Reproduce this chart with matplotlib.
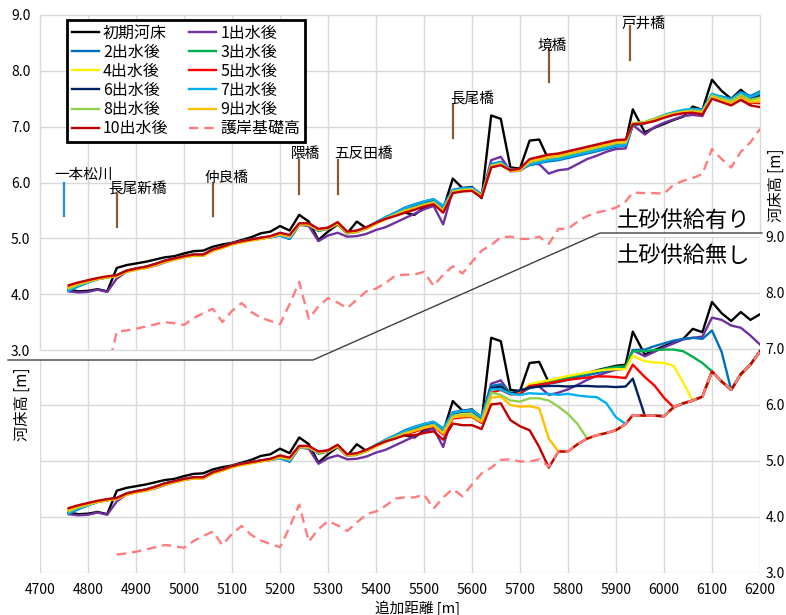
import numpy as np
import matplotlib
matplotlib.use('Agg')
import matplotlib.pyplot as plt
from matplotlib.patches import Polygon
from matplotlib.lines import Line2D

plt.rcParams['font.family'] = ['Noto Sans CJK JP', 'DejaVu Sans']

# survey sections [m]
dist = list(range(4760, 5921, 20)) + [5935] + list(range(5960, 6201, 20))

# initial river bed [m]
init_bed = [4.08, 4.05, 4.06, 4.09, 4.05, 4.47, 4.52, 4.55, 4.58, 4.62,
            4.66, 4.68, 4.73, 4.77, 4.78, 4.85, 4.89, 4.92, 4.97, 5.02,
            5.09, 5.12, 5.22, 5.14, 5.42, 5.30, 4.97, 5.12, 5.25, 5.09,
            5.30, 5.18, 5.28, 5.36, 5.42, 5.46, 5.42, 5.55, 5.62, 5.52,
            6.07, 5.90, 5.92, 5.72, 7.20, 7.14, 6.27, 6.25, 6.75, 6.77,
            6.40, 6.42, 6.47, 6.52, 6.57, 6.62, 6.66, 6.70, 6.72, 7.31,
            6.90, 6.98, 7.05, 7.12, 7.18, 7.36, 7.30, 7.84, 7.64, 7.50,
            7.66, 7.52, 7.62]

# revetment foundation height, from 4860 m on (top chart starts one point earlier)
found_lead = 2.6
found = [3.33, 3.35, 3.38, 3.42, 3.46, 3.50, 3.48, 3.45, 3.57, 3.66,
         3.74, 3.50, 3.70, 3.84, 3.68, 3.58, 3.52, 3.46, 3.82, 4.22,
         3.56, 3.78, 3.93, 3.85, 3.75, 3.90, 4.05, 4.10, 4.20, 4.33,
         4.35, 4.35, 4.40, 4.15, 4.35, 4.50, 4.37, 4.58, 4.78, 4.88,
         5.02, 5.03, 4.99, 4.99, 5.03, 4.90, 5.17, 5.17, 5.30, 5.40,
         5.46, 5.50, 5.55, 5.66, 5.82, 5.81, 5.81, 5.80, 5.96, 6.03,
         6.08, 6.15, 6.60, 6.42, 6.27, 6.55, 6.72, 6.96]

# with sediment supply (top chart)
top_1 = [4.05, 4.03, 4.04, 4.08, 4.04, 4.28, 4.40, 4.44, 4.47, 4.51,
         4.57, 4.62, 4.66, 4.69, 4.69, 4.78, 4.83, 4.90, 4.94, 4.97,
         5.00, 5.02, 5.05, 4.99, 5.24, 5.22, 4.95, 5.05, 5.10, 5.03,
         5.04, 5.08, 5.15, 5.20, 5.28, 5.36, 5.44, 5.52, 5.58, 5.25,
         5.86, 5.88, 5.90, 5.76, 6.40, 6.46, 6.20, 6.21, 6.33, 6.33,
         6.16, 6.22, 6.24, 6.33, 6.42, 6.48, 6.55, 6.60, 6.61, 7.03,
         6.86, 6.99, 7.07, 7.13, 7.19, 7.21, 7.19, 7.58, 7.49, 7.43,
         7.48, 7.40, 7.58]
top_2 = [4.06, 4.14, 4.21, 4.27, 4.31, 4.34, 4.42, 4.46, 4.49, 4.54,
         4.60, 4.64, 4.68, 4.71, 4.71, 4.80, 4.85, 4.91, 4.95, 4.98,
         5.01, 5.03, 5.06, 4.99, 5.24, 5.25, 5.13, 5.17, 5.26, 5.09,
         5.11, 5.18, 5.28, 5.38, 5.46, 5.55, 5.61, 5.66, 5.70, 5.58,
         5.87, 5.90, 5.91, 5.79, 6.33, 6.37, 6.23, 6.23, 6.31, 6.35,
         6.38, 6.40, 6.44, 6.48, 6.52, 6.56, 6.60, 6.64, 6.66, 7.02,
         7.06, 7.13, 7.20, 7.25, 7.29, 7.31, 7.29, 7.57, 7.54, 7.50,
         7.62, 7.55, 7.63]
top_3 = [4.10, 4.17, 4.22, 4.27, 4.30, 4.33, 4.41, 4.45, 4.48, 4.53,
         4.59, 4.63, 4.67, 4.70, 4.70, 4.79, 4.84, 4.90, 4.94, 4.97,
         5.00, 5.03, 5.08, 5.03, 5.25, 5.25, 5.15, 5.18, 5.27, 5.10,
         5.12, 5.18, 5.27, 5.36, 5.43, 5.51, 5.56, 5.62, 5.66, 5.52,
         5.84, 5.87, 5.88, 5.76, 6.30, 6.34, 6.22, 6.23, 6.36, 6.40,
         6.44, 6.46, 6.50, 6.54, 6.58, 6.62, 6.66, 6.70, 6.71, 7.06,
         7.08, 7.14, 7.20, 7.25, 7.28, 7.30, 7.28, 7.58, 7.52, 7.48,
         7.60, 7.52, 7.62]
top_4 = [4.11, 4.18, 4.22, 4.27, 4.30, 4.32, 4.40, 4.44, 4.47, 4.52,
         4.58, 4.62, 4.66, 4.69, 4.69, 4.78, 4.83, 4.89, 4.93, 4.96,
         4.99, 5.02, 5.07, 5.03, 5.24, 5.24, 5.14, 5.17, 5.26, 5.09,
         5.11, 5.17, 5.26, 5.35, 5.42, 5.50, 5.55, 5.60, 5.64, 5.50,
         5.83, 5.86, 5.87, 5.75, 6.29, 6.33, 6.21, 6.22, 6.37, 6.41,
         6.45, 6.47, 6.51, 6.55, 6.59, 6.63, 6.67, 6.71, 6.72, 7.06,
         7.08, 7.14, 7.20, 7.25, 7.28, 7.29, 7.26, 7.55, 7.49, 7.44,
         7.55, 7.46, 7.48]
top_5 = [4.14, 4.20, 4.24, 4.28, 4.31, 4.33, 4.41, 4.45, 4.48, 4.53,
         4.59, 4.63, 4.67, 4.70, 4.70, 4.79, 4.84, 4.90, 4.94, 4.97,
         5.00, 5.03, 5.08, 5.04, 5.26, 5.26, 5.16, 5.19, 5.28, 5.11,
         5.13, 5.19, 5.27, 5.35, 5.41, 5.48, 5.52, 5.58, 5.62, 5.47,
         5.82, 5.85, 5.86, 5.74, 6.28, 6.32, 6.22, 6.24, 6.40, 6.44,
         6.48, 6.50, 6.54, 6.58, 6.62, 6.66, 6.70, 6.74, 6.75, 7.05,
         7.07, 7.12, 7.18, 7.23, 7.26, 7.27, 7.24, 7.53, 7.47, 7.42,
         7.53, 7.43, 7.42]
top_6 = [4.08, 4.16, 4.22, 4.27, 4.30, 4.33, 4.41, 4.45, 4.48, 4.53,
         4.59, 4.63, 4.67, 4.70, 4.70, 4.79, 4.84, 4.90, 4.94, 4.97,
         5.00, 5.02, 5.07, 5.02, 5.25, 5.25, 5.14, 5.18, 5.27, 5.10,
         5.12, 5.18, 5.27, 5.37, 5.44, 5.52, 5.58, 5.64, 5.68, 5.54,
         5.85, 5.88, 5.89, 5.77, 6.31, 6.35, 6.22, 6.23, 6.34, 6.38,
         6.42, 6.44, 6.48, 6.52, 6.56, 6.60, 6.64, 6.68, 6.69, 7.04,
         7.07, 7.13, 7.19, 7.24, 7.27, 7.29, 7.27, 7.57, 7.51, 7.47,
         7.58, 7.50, 7.56]
top_7 = [4.07, 4.15, 4.21, 4.27, 4.31, 4.34, 4.42, 4.46, 4.49, 4.54,
         4.60, 4.64, 4.68, 4.71, 4.71, 4.80, 4.85, 4.91, 4.95, 4.98,
         5.01, 5.02, 5.05, 5.00, 5.24, 5.25, 5.14, 5.18, 5.27, 5.10,
         5.12, 5.19, 5.29, 5.38, 5.45, 5.54, 5.60, 5.66, 5.70, 5.57,
         5.86, 5.89, 5.90, 5.78, 6.32, 6.36, 6.23, 6.23, 6.32, 6.36,
         6.40, 6.42, 6.46, 6.50, 6.54, 6.58, 6.62, 6.66, 6.67, 7.03,
         7.07, 7.14, 7.21, 7.26, 7.30, 7.32, 7.30, 7.59, 7.53, 7.49,
         7.61, 7.53, 7.60]
top_8 = [4.10, 4.17, 4.22, 4.27, 4.30, 4.33, 4.41, 4.45, 4.48, 4.53,
         4.59, 4.63, 4.67, 4.70, 4.70, 4.79, 4.84, 4.90, 4.94, 4.97,
         5.00, 5.03, 5.07, 5.03, 5.25, 5.25, 5.15, 5.18, 5.27, 5.10,
         5.12, 5.18, 5.27, 5.36, 5.43, 5.50, 5.55, 5.61, 5.65, 5.51,
         5.84, 5.87, 5.88, 5.76, 6.30, 6.34, 6.22, 6.23, 6.36, 6.40,
         6.44, 6.46, 6.50, 6.54, 6.58, 6.62, 6.66, 6.70, 6.71, 7.05,
         7.08, 7.14, 7.20, 7.24, 7.27, 7.29, 7.27, 7.56, 7.50, 7.46,
         7.57, 7.48, 7.52]
top_9 = [4.12, 4.19, 4.23, 4.27, 4.30, 4.32, 4.40, 4.44, 4.47, 4.52,
         4.58, 4.62, 4.66, 4.69, 4.69, 4.78, 4.83, 4.89, 4.93, 4.96,
         4.99, 5.02, 5.07, 5.03, 5.25, 5.25, 5.15, 5.18, 5.27, 5.10,
         5.12, 5.18, 5.26, 5.34, 5.41, 5.49, 5.54, 5.59, 5.63, 5.49,
         5.83, 5.86, 5.87, 5.75, 6.29, 6.33, 6.21, 6.22, 6.38, 6.42,
         6.46, 6.48, 6.52, 6.56, 6.60, 6.64, 6.68, 6.72, 6.73, 7.05,
         7.07, 7.12, 7.18, 7.23, 7.26, 7.27, 7.25, 7.53, 7.47, 7.42,
         7.52, 7.44, 7.45]
top_10 = [4.16, 4.21, 4.25, 4.29, 4.32, 4.34, 4.42, 4.46, 4.49, 4.54,
          4.60, 4.64, 4.68, 4.71, 4.71, 4.80, 4.85, 4.91, 4.95, 4.98,
          5.01, 5.04, 5.10, 5.06, 5.27, 5.27, 5.17, 5.19, 5.29, 5.12,
          5.14, 5.20, 5.28, 5.35, 5.40, 5.46, 5.51, 5.57, 5.61, 5.46,
          5.81, 5.84, 5.85, 5.73, 6.27, 6.31, 6.22, 6.25, 6.42, 6.46,
          6.50, 6.52, 6.56, 6.60, 6.64, 6.68, 6.72, 6.76, 6.77, 7.04,
          7.06, 7.10, 7.16, 7.21, 7.24, 7.25, 7.22, 7.50, 7.44, 7.38,
          7.48, 7.38, 7.35]


def down_to_found(values):
    # once the bed reaches the revetment foundation it stays on it
    return values + found[len(values) - 5:]


# without sediment supply (bottom chart)
bot_1 = top_1[:44] + [6.38, 6.44, 6.20, 6.20, 6.33, 6.33, 6.18, 6.22, 6.28, 6.36,
                      6.45, 6.52, 6.58, 6.63, 6.65, 6.98, 6.87, 6.95, 7.03, 7.10,
                      7.17, 7.20, 7.22, 7.56, 7.52, 7.42, 7.38, 7.24, 7.08]
bot_2 = down_to_found(top_2[:44] + [6.34, 6.37, 6.22, 6.21, 6.30, 6.34, 6.38, 6.41, 6.45,
                                    6.49, 6.53, 6.57, 6.61, 6.65, 6.67, 6.98, 6.99, 7.05,
                                    7.10, 7.15, 7.18, 7.20, 7.18, 7.33, 6.95])
bot_3 = down_to_found(top_3[:44] + [6.30, 6.33, 6.22, 6.22, 6.34, 6.38, 6.42, 6.45, 6.49,
                                    6.53, 6.57, 6.61, 6.65, 6.68, 6.69, 6.96, 6.96, 6.98,
                                    6.99, 6.99, 6.96, 6.86, 6.75])
bot_4 = down_to_found(top_4[:44] + [6.27, 6.31, 6.20, 6.21, 6.37, 6.41, 6.44, 6.48, 6.52,
                                    6.55, 6.58, 6.61, 6.63, 6.64, 6.64, 6.88, 6.78, 6.76,
                                    6.75, 6.70, 6.40])
bot_5 = down_to_found(top_5[:40] + [5.76, 5.78, 5.79, 5.68, 6.22, 6.27, 6.19, 6.20, 6.34,
                                    6.36, 6.39, 6.42, 6.45, 6.47, 6.49, 6.51, 6.51, 6.50,
                                    6.48, 6.72, 6.50, 6.35, 6.13])
bot_6 = down_to_found(top_6[:44] + [6.30, 6.33, 6.20, 6.26, 6.31, 6.33, 6.34, 6.34, 6.33,
                                    6.34, 6.34, 6.33, 6.33, 6.32, 6.33, 6.47])
bot_7 = down_to_found(top_7[:44] + [6.28, 6.28, 6.20, 6.18, 6.21, 6.20, 6.20, 6.18, 6.20,
                                    6.17, 6.15, 6.14, 6.03, 5.78])
bot_8 = down_to_found(top_8[:40] + [5.80, 5.82, 5.83, 5.71, 6.22, 6.18, 6.08, 6.06, 6.12,
                                    6.12, 6.08, 5.97, 5.84, 5.66])
bot_9 = down_to_found(top_9[:40] + [5.78, 5.80, 5.80, 5.70, 6.13, 6.15, 6.00, 5.97, 5.98,
                                    5.94, 5.40])
bot_10 = down_to_found(top_10[:36] + [5.46, 5.50, 5.53, 5.38, 5.67, 5.64, 5.64, 5.57, 6.01,
                                      6.03, 5.73, 5.62, 5.55, 5.25, 4.88])

top_series = [top_1, top_2, top_3, top_4, top_5, top_6, top_7, top_8, top_9, top_10]
bot_series = [bot_1, bot_2, bot_3, bot_4, bot_5, bot_6, bot_7, bot_8, bot_9, bot_10]
labels = ['%d出水後' % (i + 1) for i in range(10)]

# bridges / tributary marks
bridge_names = ['一本松川', '長尾新橋', '仲良橋', '隈橋', '五反田橋', '長尾橋', '境橋', '戸井橋']
bridge_x = [4750, 4860, 5060, 5240, 5320, 5560, 5760, 5930]
bridge_lo = [5.4, 5.2, 5.4, 5.8, 5.8, 6.8, 7.8, 8.2]
bridge_hi = [6.0, 5.8, 6.0, 6.4, 6.4, 7.4, 8.4, 8.8]
name_x = [4791, 4904, 5089, 5254, 5374, 5600, 5766, 5958]
name_y = [6.13, 5.87, 6.08, 6.51, 6.51, 7.48, 8.45, 8.85]

colors = ['#7030A0', '#0070C0', '#00B050', '#FFF000', '#FF0000',
          '#002060', '#00B0F0', '#92D050', '#FFC000', '#C00000']
pink = '#FF7C80'
grid_c = '#D9D9D9'
W, H = 786, 615


def px(x, y):
    return (x / W, 1 - y / H)


fig = plt.figure(figsize=(W / 100, H / 100), dpi=100)
ax_b = fig.add_axes([40 / W, 42 / H, 720 / W, 336 / H])
ax_t = fig.add_axes([40 / W, 265 / H, 720 / W, 335 / H])
ax_b.set_zorder(0)
ax_t.set_zorder(2)
ax_t.patch.set_visible(False)

# white area of the upper chart, masking the lower one
mask = Polygon([px(0, 0), px(0, 360), px(313, 360), px(600, 233), px(762, 233), px(762, 0)],
               closed=True, transform=fig.transFigure, facecolor='white', edgecolor='none',
               zorder=1)
fig.add_artist(mask)
fig.add_artist(Line2D([8 / W, 313 / W, 600 / W, 762 / W],
                      [1 - 360 / H, 1 - 360 / H, 1 - 233 / H, 1 - 233 / H],
                      transform=fig.transFigure, color='#404040', lw=1, zorder=3))

xt = np.arange(4700, 6201, 100)
yt = np.arange(3, 10)
for ax in (ax_t, ax_b):
    ax.set_xlim(4700, 6200)
    ax.set_ylim(3, 9)
    for s in ax.spines.values():
        s.set_visible(False)

# bottom chart
ax_b.set_xticks(xt)
ax_b.set_yticks(yt)
ax_b.set_yticklabels(['%.1f' % v for v in yt])
ax_b.yaxis.tick_right()
ax_b.tick_params(length=0, labelsize=10)
ax_b.tick_params(axis='x', pad=7)
ax_b.tick_params(axis='y', pad=4)
ax_b.grid(True, color=grid_c, lw=1)
ax_b.set_axisbelow(True)
ax_b.plot(dist, init_bed, color='black', lw=1.7)
for vals, c in zip(bot_series, colors):
    ax_b.plot(dist[:len(vals)], vals, color=c, lw=1.7)
ax_b.plot(dist[5:], found, color=pink, lw=1.7, ls=(0, (4, 2.5)))

# top chart
ax_t.set_xticks([])
ax_t.set_yticks(yt)
ax_t.set_yticklabels(['%.1f' % v for v in yt])
ax_t.tick_params(length=0, labelsize=10, pad=7)
grids = [ax_t.vlines(xt, 3, 9, color=grid_c, lw=1, zorder=0.5),
         ax_t.hlines(yt, 4700, 6200, color=grid_c, lw=1, zorder=0.5)]
for g in grids:
    g.set_clip_box(None)
    g.set_clip_path(mask)

h_init, = ax_t.plot(dist, init_bed, color='black', lw=1.7)
h_series = []
for vals, c in zip(top_series, colors):
    h, = ax_t.plot(dist, vals, color=c, lw=1.7)
    h_series.append(h)
h_found, = ax_t.plot([4840] + dist[5:], [found_lead] + found, color=pink, lw=1.7,
                     ls=(0, (4, 2.5)))

for i, name in enumerate(bridge_names):
    c = '#1F8FD8' if i == 0 else '#8C5A32'
    ax_t.plot([bridge_x[i], bridge_x[i]], [bridge_lo[i], bridge_hi[i]], color=c, lw=1.6)
    ax_t.text(name_x[i], name_y[i], name, ha='center', va='center', fontsize=10.5)

order_h = [h_init, h_series[1], h_series[3], h_series[5], h_series[7], h_series[9],
           h_series[0], h_series[2], h_series[4], h_series[6], h_series[8], h_found]
order_l = ['初期河床', labels[1], labels[3], labels[5], labels[7], labels[9],
           labels[0], labels[2], labels[4], labels[6], labels[8], '護岸基礎高']
leg = ax_t.legend(order_h, order_l, loc='upper left', bbox_to_anchor=px(67, 20),
                  bbox_transform=fig.transFigure, ncol=2, fontsize=11.5, frameon=True,
                  fancybox=False, edgecolor='black', framealpha=1, borderpad=0.3,
                  labelspacing=0.13, handlelength=1.7, handletextpad=0.25,
                  columnspacing=1.3, borderaxespad=0)
leg.get_frame().set_linewidth(2)

fig.text(684 / W, 1 - 220 / H, '土砂供給有り', ha='center', va='center', fontsize=16)
fig.text(684 / W, 1 - 255 / H, '土砂供給無し', ha='center', va='center', fontsize=16)
fig.text(776 / W, 1 - 185 / H, '河床高 [m]', rotation=90, ha='center', va='center', fontsize=11)
fig.text(22 / W, 1 - 404 / H, '河床高 [m]', rotation=90, ha='center', va='center', fontsize=11)
fig.text(417 / W, 1 - 608 / H, '追加距離 [m]', ha='center', va='center', fontsize=10.5)

fig.savefig('out.png', dpi=100)
